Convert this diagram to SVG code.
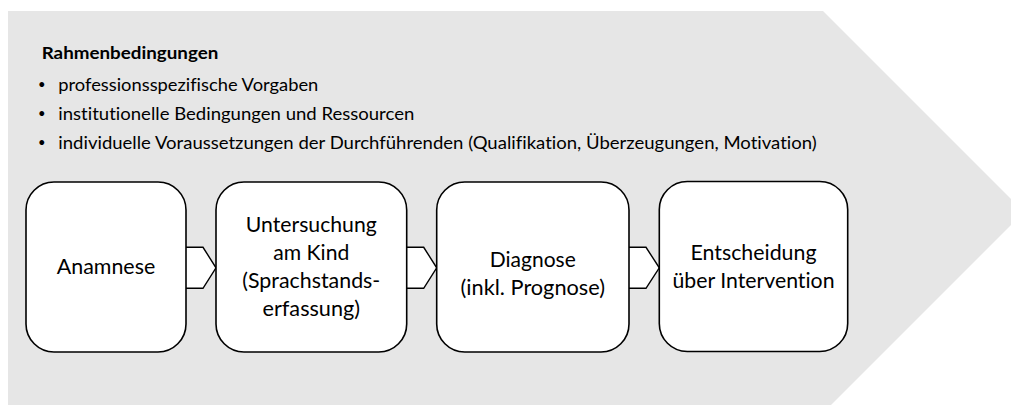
<svg xmlns="http://www.w3.org/2000/svg" width="1011" height="405" viewBox="0 0 1011 405">
  <style>
    .frame { fill: #e6e6e6; stroke: none; }
    .step { fill: #ffffff; stroke: #000000; stroke-width: 1.6; }
    .link { fill: #ffffff; stroke: #000000; stroke-width: 1.4; stroke-linejoin: miter; }
    text { font-variant-ligatures: none; }
    .head { font-family: Lato, "Liberation Sans", sans-serif; font-weight: 700; font-size: 17.5px; fill: #000000; }
    .item { font-family: Lato, "Liberation Sans", sans-serif; font-size: 18px; fill: #000000; }
    .dot { font-family: Lato, "Liberation Sans", sans-serif; font-size: 13px; fill: #000000; }
    .label { font-family: Lato, "Liberation Sans", sans-serif; font-size: 20.5px; fill: #000000; text-anchor: middle; }
  </style>

  <!-- large process chevron in the background -->
  <polygon class="frame" points="8,11 823,11 1024,212 823,413 8,413"/>

  <!-- framework conditions -->
  <g id="rahmen">
    <text class="head" x="41.7" y="58.5" textLength="176.6" lengthAdjust="spacingAndGlyphs">Rahmenbedingungen</text>
    <text class="dot" x="38" y="89">•</text>
    <text class="item" x="58.3" y="91" textLength="260" lengthAdjust="spacingAndGlyphs">professionsspezifische Vorgaben</text>
    <text class="dot" x="38" y="118">•</text>
    <text class="item" x="58.3" y="120" textLength="356" lengthAdjust="spacingAndGlyphs">institutionelle Bedingungen und Ressourcen</text>
    <text class="dot" x="38" y="147">•</text>
    <text class="item" x="58.3" y="149" textLength="758.4" lengthAdjust="spacingAndGlyphs">individuelle Voraussetzungen der Durchführenden (Qualifikation, Überzeugungen, Motivation)</text>
  </g>

  <!-- connectors between the steps -->
  <g id="connectors">
    <path class="link" d="M186,247.3 H203 L216,267.8 L203,288.3 H186"/>
    <path class="link" d="M406.7,247.3 H423.7 L436.7,267.8 L423.7,288.3 H406.7"/>
    <path class="link" d="M629,247.3 H646 L659.3,267.8 L646,288.3 H629"/>
  </g>

  <g id="anamnese">
    <rect class="step" x="26" y="182" width="160" height="170" rx="28" ry="28"/>
    <text class="label" x="106" y="274" textLength="98.5" lengthAdjust="spacingAndGlyphs">Anamnese</text>
  </g>

  <g id="untersuchung">
    <rect class="step" x="216" y="182" width="190.7" height="170" rx="28" ry="28"/>
    <text class="label" x="311.3" y="232" textLength="131" lengthAdjust="spacingAndGlyphs">Untersuchung</text>
    <text class="label" x="311.3" y="260" textLength="76" lengthAdjust="spacingAndGlyphs">am Kind</text>
    <text class="label" x="311.3" y="288" textLength="138" lengthAdjust="spacingAndGlyphs">(Sprachstands-</text>
    <text class="label" x="311.3" y="316" textLength="97.5" lengthAdjust="spacingAndGlyphs">erfassung)</text>
  </g>

  <g id="diagnose">
    <rect class="step" x="436.7" y="182" width="192.3" height="170" rx="28" ry="28"/>
    <text class="label" x="532.8" y="267" textLength="86" lengthAdjust="spacingAndGlyphs">Diagnose</text>
    <text class="label" x="532.8" y="295" textLength="144.5" lengthAdjust="spacingAndGlyphs">(inkl. Prognose)</text>
  </g>

  <g id="entscheidung">
    <rect class="step" x="659.3" y="181.5" width="188.4" height="170" rx="28" ry="28"/>
    <text class="label" x="753.5" y="260" textLength="126" lengthAdjust="spacingAndGlyphs">Entscheidung</text>
    <text class="label" x="753.5" y="288" textLength="162" lengthAdjust="spacingAndGlyphs">über Intervention</text>
  </g>
</svg>
